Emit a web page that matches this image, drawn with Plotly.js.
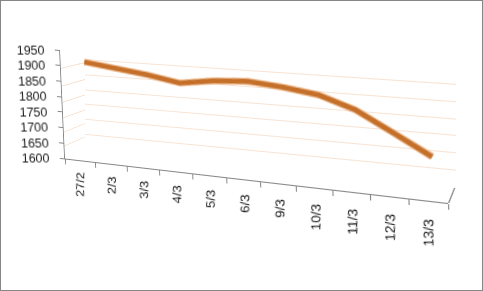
<!DOCTYPE html>
<html><head><meta charset="utf-8">
<script src="https://cdn.plot.ly/plotly-3.0.1.min.js"></script>
<style>
html,body{margin:0;padding:0;background:#fff;overflow:hidden;}
#wrap{position:relative;width:483px;height:291px;background:#fff;}
.layer{position:absolute;left:0;top:0;width:483px;height:291px;transform-origin:0 0;}
#frame{position:absolute;left:0;top:0;width:483px;height:291px;box-sizing:border-box;border:1px solid #868686;pointer-events:none;}
</style></head>
<body><div id="wrap">
<div id="back" class="layer"></div>
<div id="side" class="layer"></div>
<div id="floor" class="layer"></div>
<div id="ribbon" class="layer"></div>
<div id="front" class="layer"></div>
<div id="ylab" class="layer"></div>
<div id="xlab" class="layer"></div>
<div id="frame"></div>
</div>
<script>
// ---- data ----
var categories = ["27/2","2/3","3/3","4/3","5/3","6/3","9/3","10/3","11/3","12/3","13/3"];
var values = [1912,1899,1884,1865,1880,1886,1876,1860,1823,1763,1702];
var yTicks = [1600,1650,1700,1750,1800,1850,1900,1950];

// ---- 3-D look: each flat Plotly layer is seen in perspective (Excel 3-D line style) ----
var RECT = {x:65, y:50, w:383, h:110};   // plot area of every layer before projection
var QUADS = {   // corners TL, TR, BR, BL of each projected plane
  back:   [[85,45],[456,67.5],[456,187],[85,149]],
  side:   [[60,50],[85,45],[85,149],[65,158.5]],
  floor:  [[85,149],[454,188],[448,203],[65,158.5]],
  ribbon: [[69,49.6],[452,74.4],[452,193.3],[69,153.4]],
  front:  [[60,50],[446,79],[448,203],[65,158.5]],
  ylab:   [[60,50],[443,50],[448,158.5],[65,158.5]],
  xlab:   [[79.3,46.6],[464,82.4],[448,205.3],[65,155.6]]
};
var XLAB_TILT = 7.4;   // degrees the label plane is turned; labels are counter-rotated to stay upright

function homography(q, r){
  var x0=q[0][0],y0=q[0][1],x1=q[1][0],y1=q[1][1],x2=q[2][0],y2=q[2][1],x3=q[3][0],y3=q[3][1];
  var dx1=x1-x2,dx2=x3-x2,dx3=x0-x1+x2-x3,dy1=y1-y2,dy2=y3-y2,dy3=y0-y1+y2-y3;
  var den=dx1*dy2-dx2*dy1;
  var g=(dx3*dy2-dx2*dy3)/den, h=(dx1*dy3-dx3*dy1)/den;
  var a=x1-x0+g*x1, b=x3-x0+h*x3, c=x0, d=y1-y0+g*y1, e=y3-y0+h*y3, f=y0;
  var A=a/r.w,B=b/r.h,C=c-a*r.x/r.w-b*r.y/r.h;
  var D=d/r.w,E=e/r.h,F=f-d*r.x/r.w-e*r.y/r.h;
  var G=g/r.w,H=h/r.h,I=1-g*r.x/r.w-h*r.y/r.h;
  return 'matrix3d('+[A,D,0,G,B,E,0,H,0,0,1,0,C,F,0,I].join(',')+')';
}

var FONT = 'Liberation Sans, Arial, sans-serif';
var FSIZE = 12.5;
var TXT = '#1a1a1a';
var GRID = '#f8e3d3';
var AXIS = '#868686';

function baseLayout(){
  return {
    width:483, height:291,
    margin:{l:RECT.x, t:RECT.y, r:483-RECT.x-RECT.w, b:291-RECT.y-RECT.h, pad:0},
    paper_bgcolor:'rgba(0,0,0,0)', plot_bgcolor:'rgba(0,0,0,0)',
    showlegend:false,
    font:{family:FONT, size:FSIZE, color:TXT},
    xaxis:{type:'category', categoryarray:categories, range:[-0.5,10.5], fixedrange:true,
           showgrid:false, zeroline:false, showline:false, showticklabels:false, ticks:'', automargin:false},
    yaxis:{range:[1600,1950], tickvals:yTicks, fixedrange:true,
           showgrid:false, zeroline:false, showline:false, showticklabels:false, ticks:'', automargin:false}
  };
}
var cfg = {displayModeBar:false, staticPlot:true};
var empty = [{type:'scatter', mode:'lines', x:categories, y:values, line:{width:0}, opacity:0, hoverinfo:'skip'}];

// back wall: value grid
var lb = baseLayout();
lb.yaxis.showgrid = true; lb.yaxis.gridcolor = GRID; lb.yaxis.gridwidth = 1;
Plotly.newPlot('back', empty, lb, cfg);

// left side wall: value grid
var ls = baseLayout();
ls.yaxis.showgrid = true; ls.yaxis.gridcolor = GRID; ls.yaxis.gridwidth = 1;
Plotly.newPlot('side', empty, ls, cfg);

// floor: right-hand edge
var lfl = baseLayout();
lfl.yaxis.side = 'right'; lfl.yaxis.showline = true; lfl.yaxis.linecolor = AXIS; lfl.yaxis.linewidth = 1;
Plotly.newPlot('floor', empty, lfl, cfg);

// the ribbon line
var lr = baseLayout();
Plotly.newPlot('ribbon', [
  {type:'scatter', mode:'lines', x:categories, y:values, line:{color:'#eab68a', width:7}, hoverinfo:'skip'},
  {type:'scatter', mode:'lines', x:categories, y:values, line:{color:'#c4702a', width:4.5}, hoverinfo:'skip'}
], lr, cfg);

// front plane: axis lines and tick marks
var lf = baseLayout();
lf.xaxis.showline = true; lf.xaxis.linecolor = AXIS; lf.xaxis.linewidth = 1;
lf.xaxis.ticks = 'outside'; lf.xaxis.ticklen = 5; lf.xaxis.tickcolor = AXIS; lf.xaxis.tickson = 'boundaries';
lf.yaxis.showline = true; lf.yaxis.linecolor = AXIS; lf.yaxis.linewidth = 1;
lf.yaxis.ticks = 'outside'; lf.yaxis.ticklen = 5; lf.yaxis.tickcolor = AXIS;
Plotly.newPlot('front', empty, lf, cfg);

// value labels (kept upright)
var ly = baseLayout();
ly.yaxis.showticklabels = true; ly.yaxis.ticks = 'outside'; ly.yaxis.ticklen = 5; ly.yaxis.tickcolor = 'rgba(0,0,0,0)';
ly.yaxis.ticklabelstandoff = 7;
Plotly.newPlot('ylab', empty, ly, cfg);

// category labels (kept upright)
var lx = baseLayout();
lx.xaxis.showticklabels = true; lx.xaxis.ticks = 'outside'; lx.xaxis.ticklen = 5; lx.xaxis.tickcolor = 'rgba(0,0,0,0)';
lx.xaxis.tickangle = -90 - XLAB_TILT;
Plotly.newPlot('xlab', empty, lx, cfg);

['back','side','floor','ribbon','front','ylab','xlab'].forEach(function(id){
  document.getElementById(id).style.transform = homography(QUADS[id], RECT);
});
</script></body></html>
